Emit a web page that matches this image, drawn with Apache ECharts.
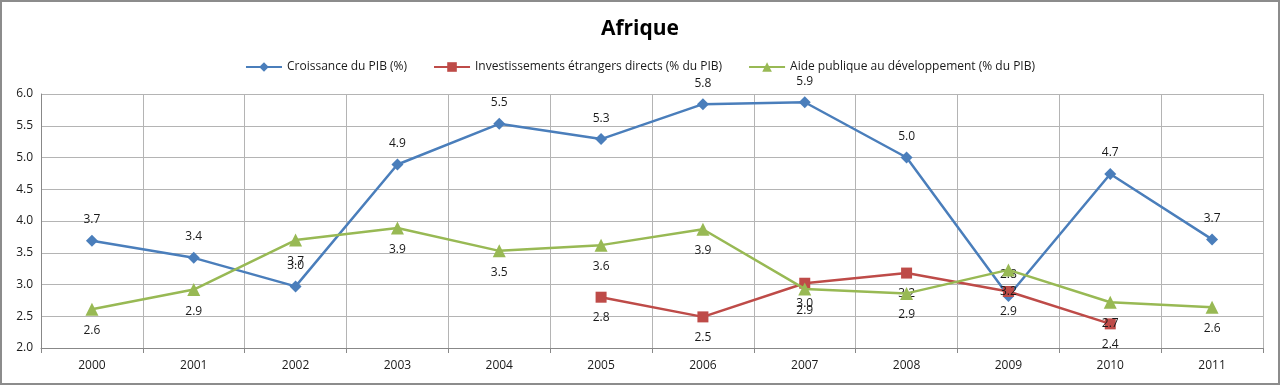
<!DOCTYPE html>
<html><head><meta charset="utf-8">
<script src="https://cdn.jsdelivr.net/npm/echarts@6/dist/echarts.min.js"></script>
<style>
html,body{margin:0;padding:0;background:#fff;}
#c{width:1276px;height:381px;border:2px solid #8c8c8c;}
</style></head>
<body><div id="c"></div>
<script>
const years = ['2000','2001','2002','2003','2004','2005','2006','2007','2008','2009','2010','2011'];
const pib = [3.69,3.42,2.97,4.89,5.53,5.29,5.84,5.87,5.00,2.82,4.74,3.71];
const ide = [null,null,null,null,null,2.80,2.49,3.02,3.18,2.89,2.38,null];
const apd = [2.61,2.92,3.70,3.89,3.53,3.62,3.87,2.93,2.86,3.23,2.72,2.64];
const yTicks = {min:2.0,max:6.0,interval:0.5};

const chart = echarts.init(document.getElementById('c'));
const font = '"Open Sans", "Noto Sans", sans-serif';
function lbl(pos){return {show:true,position:pos,distance:9,color:'#1a1a1a',fontSize:12,fontFamily:font,formatter:p=>p.value==null?'':Number(p.value).toFixed(1)};}
chart.setOption({
  animation:false,
  title:{text:'Afrique',left:'center',top:12,textStyle:{fontSize:21,fontWeight:'bold',color:'#000',fontFamily:font}},
  legend:{top:54,left:'center',itemGap:26,itemWidth:36,itemHeight:12,textStyle:{fontSize:12,color:'#1a1a1a',fontFamily:font},
    data:['Croissance du PIB (%)','Investissements étrangers directs (% du PIB)','Aide publique au développement (% du PIB)']},
  grid:{left:39,right:15,top:92,bottom:35},
  xAxis:{type:'category',data:years,boundaryGap:true,
    axisLine:{lineStyle:{color:'#888'}},axisTick:{show:true,length:5,lineStyle:{color:'#888'}},
    axisLabel:{color:'#1a1a1a',fontSize:12,fontFamily:font,margin:12},
    splitLine:{show:true,lineStyle:{color:'#b4b4b4',width:1}}},
  yAxis:{type:'value',min:yTicks.min,max:yTicks.max,interval:yTicks.interval,
    axisLine:{show:true,lineStyle:{color:'#888'}},axisTick:{show:false},
    axisLabel:{color:'#1a1a1a',fontSize:12,fontFamily:font,margin:8,formatter:v=>v.toFixed(1)},
    splitLine:{show:true,lineStyle:{color:'#b4b4b4',width:1}}},
  series:[
    {name:'Croissance du PIB (%)',type:'line',data:pib,symbol:'diamond',symbolSize:12,
      lineStyle:{color:'#4A7EBB',width:2.5},itemStyle:{color:'#4A7EBB'},label:lbl('top'),z:3},
    {name:'Investissements étrangers directs (% du PIB)',type:'line',data:ide,symbol:'rect',symbolSize:11,
      lineStyle:{color:'#BE4B48',width:2.5},itemStyle:{color:'#BE4B48'},label:lbl('bottom'),z:4},
    {name:'Aide publique au développement (% du PIB)',type:'line',data:apd,symbol:'triangle',symbolSize:13,
      lineStyle:{color:'#98B954',width:2.5},itemStyle:{color:'#98B954'},label:lbl('bottom'),z:5}
  ]
});
</script></body></html>
